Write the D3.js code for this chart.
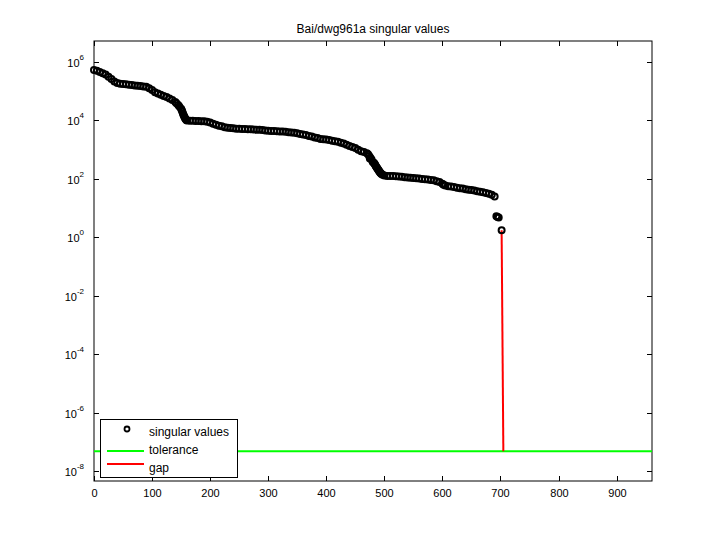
<!DOCTYPE html><html><head><meta charset="utf-8">
<script src="https://cdn.jsdelivr.net/npm/d3@7"></script>
<style>body{margin:0;background:#fff}text{font-family:"Liberation Sans",Arial,sans-serif}</style></head><body>
<svg id="c" width="720" height="540"></svg>
<script>
const title="Bai/dwg961a singular values";
const xTicks=[0,100,200,300,400,500,600,700,800,900];
const yTickExps=[-8,-6,-4,-2,0,2,4,6];
// log10 of singular values at indices 0,5,10,...,690
const svLog=[5.73,5.70,5.66,5.62,5.57,5.50,5.42,5.33,5.28,5.26,5.25,5.24,5.22,5.21,5.20,5.19,5.18,5.16,5.15,5.10,5.04,4.97,4.92,4.88,4.84,4.80,4.75,4.70,4.63,4.53,4.40,4.15,4.00,3.99,3.99,3.98,3.98,3.97,3.97,3.96,3.93,3.89,3.85,3.82,3.80,3.77,3.75,3.74,3.73,3.72,3.72,3.71,3.71,3.70,3.70,3.69,3.68,3.68,3.67,3.66,3.65,3.64,3.64,3.63,3.62,3.62,3.61,3.60,3.59,3.58,3.56,3.54,3.52,3.50,3.47,3.45,3.42,3.40,3.37,3.36,3.35,3.33,3.31,3.29,3.27,3.24,3.21,3.17,3.13,3.09,3.06,3.00,2.95,2.92,2.88,2.70,2.58,2.45,2.30,2.17,2.12,2.10,2.10,2.10,2.09,2.08,2.07,2.06,2.05,2.04,2.03,2.02,2.01,2.00,1.99,1.98,1.96,1.95,1.92,1.89,1.83,1.77,1.75,1.74,1.72,1.70,1.68,1.67,1.65,1.63,1.62,1.60,1.58,1.56,1.54,1.52,1.49,1.46,1.40];
// extra readings in the steep stretches
const steepIdx=[142,147,151,152,153,154,156,157,158,159,472,474,476,478,482,483,484,486,487,488,489,491,492,493,494,497,602];
const steepLog=[4.59,4.48,4.36,4.31,4.25,4.20,4.11,4.07,4.04,4.02,2.84,2.78,2.72,2.66,2.55,2.52,2.49,2.42,2.39,2.36,2.33,2.27,2.24,2.21,2.19,2.14,1.80];
const tailIdx=[693,695,697,702];
const tailLog=[0.72,0.70,0.68,0.24];
const tolerance=4.8e-8;
const gapX=[702,705];

const svg=d3.select("#c");
const L=94,R=652,T=41,B=481;
const x=d3.scaleLinear().domain([0,961]).range([L,R]);
const y=d3.scaleLog().domain([Math.pow(10,-8.34),Math.pow(10,6.72)]).range([B,T]);
const pts=svLog.map((v,i)=>[i*5,Math.pow(10,v)])
 .concat(steepIdx.map((d,i)=>[d,Math.pow(10,steepLog[i])]))
 .concat(tailIdx.map((d,i)=>[d,Math.pow(10,tailLog[i])]));
svg.append("rect").attr("x",L).attr("y",T).attr("width",R-L).attr("height",B-T).attr("fill","#fff").attr("stroke","#000");
const g=svg.append("g");
xTicks.forEach(t=>{const px=Math.round(x(t))+0.5;
 g.append("line").attr("x1",px).attr("x2",px).attr("y1",B).attr("y2",B-5).attr("stroke","#000");
 g.append("line").attr("x1",px).attr("x2",px).attr("y1",T).attr("y2",T+5).attr("stroke","#000");
 g.append("text").attr("x",px).attr("y",B+16).attr("text-anchor","middle").attr("font-size",11).text(t);});
yTickExps.forEach(e=>{const py=Math.round(y(Math.pow(10,e)))+0.5;
 g.append("line").attr("x1",L).attr("x2",L+5).attr("y1",py).attr("y2",py).attr("stroke","#000");
 g.append("line").attr("x1",R).attr("x2",R-5).attr("y1",py).attr("y2",py).attr("stroke","#000");
 const tx=g.append("text").attr("x",L-10).attr("y",py+4).attr("text-anchor","end").attr("font-size",11);
 tx.append("tspan").text("10");
 tx.append("tspan").attr("dy",-7).attr("font-size",8).text(e);});
svg.append("line").attr("x1",L).attr("x2",R).attr("y1",y(tolerance)).attr("y2",y(tolerance)).attr("stroke","#00ff00").attr("stroke-width",2);
svg.append("line").attr("x1",x(gapX[0])).attr("x2",x(gapX[1])).attr("y1",y(Math.pow(10,tailLog[3]))).attr("y2",y(tolerance)).attr("stroke","#ff0000").attr("stroke-width",2);
svg.append("g").selectAll("circle").data(pts).join("circle").attr("cx",d=>x(d[0])).attr("cy",d=>y(d[1])).attr("r",3).attr("fill","none").attr("stroke","#000").attr("stroke-width",2);
svg.append("text").attr("x",373).attr("y",33).attr("text-anchor","middle").attr("font-size",12).text(title);
const lg=svg.append("g");
lg.append("rect").attr("x",100.5).attr("y",419.5).attr("width",137).attr("height",58).attr("fill","#fff").attr("stroke","#000");
lg.append("circle").attr("cx",127).attr("cy",429).attr("r",2.5).attr("fill","none").attr("stroke","#000").attr("stroke-width",1.8);
lg.append("line").attr("x1",107).attr("x2",144).attr("y1",451).attr("y2",451).attr("stroke","#00ff00").attr("stroke-width",2);
lg.append("line").attr("x1",107).attr("x2",144).attr("y1",464).attr("y2",464).attr("stroke","#ff0000").attr("stroke-width",2);
[["singular values",436],["tolerance",454],["gap",472]].forEach(([t,yy])=>lg.append("text").attr("x",149).attr("y",yy).attr("font-size",12).text(t));
</script></body></html>
